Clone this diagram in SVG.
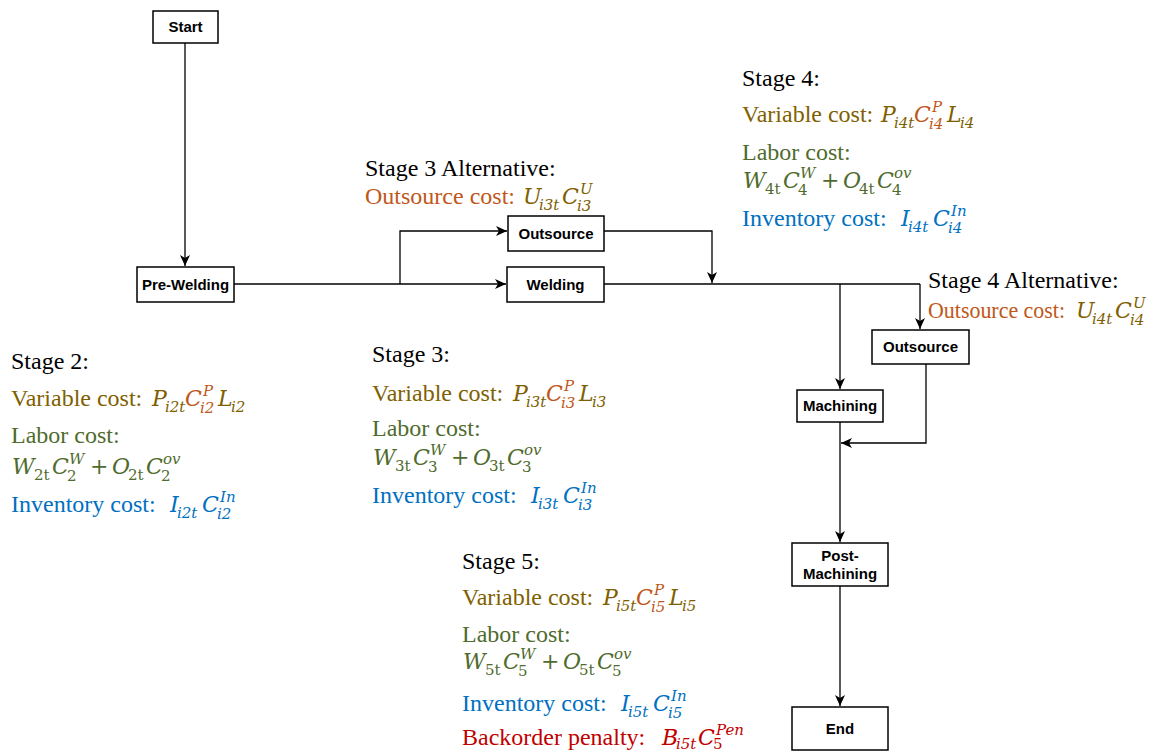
<svg xmlns="http://www.w3.org/2000/svg" width="1159" height="751" viewBox="0 0 1159 751">
<style>
.box{fill:#fff;stroke:#000;stroke-width:1.5}
.lbl{font-family:"Liberation Sans",Arial,sans-serif;font-weight:bold;font-size:15px;text-anchor:middle;fill:#000}
.t{font-family:"Liberation Serif","Times New Roman",serif;font-size:24px}
.m{font-family:"DejaVu Serif",serif;font-style:italic;font-size:22px}
.s{font-size:15px}
.up{font-style:normal}
.k{fill:#000}.ol{fill:#7F6000}.or{fill:#C0571A}.gr{fill:#4F6B2D}.bl{fill:#0070C0}.rd{fill:#C00000}
.c{fill:none;stroke:#000;stroke-width:1.3}
</style>
<defs>
<marker id="ah" markerUnits="userSpaceOnUse" markerWidth="12" markerHeight="10" viewBox="0 0 12 10" refX="11" refY="5" orient="auto">
<path d="M0,0 L11,5 L0,10 L3,5 z" fill="#000"/>
</marker>
</defs>

<g id="connectors">
<path class="c" d="M185,43 V266" marker-end="url(#ah)"/>
<path class="c" d="M234,284 H506" marker-end="url(#ah)"/>
<path class="c" d="M400,284 V231 H507" marker-end="url(#ah)"/>
<path class="c" d="M604,231 H712 V283" marker-end="url(#ah)"/>
<path class="c" d="M604,284 H920"/>
<path class="c" d="M840,284 V389" marker-end="url(#ah)"/>
<path class="c" d="M920,284 V329" marker-end="url(#ah)"/>
<path class="c" d="M926,364 V443 H841" marker-end="url(#ah)"/>
<path class="c" d="M840,422 V542" marker-end="url(#ah)"/>
<path class="c" d="M840,586 V706" marker-end="url(#ah)"/>
</g>

<g id="start"><rect class="box" x="153" y="11" width="65" height="32"/><text class="lbl" x="185.5" y="32">Start</text></g>
<g id="pre-welding"><rect class="box" x="137" y="267" width="97" height="35"/><text class="lbl" x="185.5" y="290">Pre-Welding</text></g>
<g id="welding"><rect class="box" x="507" y="267" width="97" height="35"/><text class="lbl" x="555.5" y="290">Welding</text></g>
<g id="outsource3"><rect class="box" x="508" y="216" width="96" height="35"/><text class="lbl" x="556" y="239">Outsource</text></g>
<g id="outsource4"><rect class="box" x="872" y="330" width="97" height="34"/><text class="lbl" x="920.5" y="352">Outsource</text></g>
<g id="machining"><rect class="box" x="797" y="390" width="86" height="32"/><text class="lbl" x="840" y="411">Machining</text></g>
<g id="post-machining"><rect class="box" x="792" y="543" width="96" height="43"/><text class="lbl" x="840" y="561">Post-</text><text class="lbl" x="840" y="579">Machining</text></g>
<g id="end"><rect class="box" x="792" y="707" width="96" height="43"/><text class="lbl" x="840" y="734">End</text></g>

<g id="stage3-alt">
<text class="t k" x="365" y="176">Stage 3 Alternative:</text>
<text class="t or" x="365" y="204">Outsource cost:</text>
<text class="m ol"><tspan x="523" y="204">U</tspan><tspan class="s" x="539" y="210">i3t</tspan><tspan x="562" y="204">C</tspan><tspan class="s" x="580" y="194">U</tspan><tspan class="s" x="577" y="211">i3</tspan></text>
</g>

<g id="stage4-alt">
<text class="t k" x="928" y="288">Stage 4 Alternative:</text>
<text class="t or" x="928" y="318" textLength="137" lengthAdjust="spacingAndGlyphs">Outsource cost:</text>
<text class="m ol"><tspan x="1076" y="318">U</tspan><tspan class="s" x="1092" y="324">i4t</tspan><tspan x="1115" y="318">C</tspan><tspan class="s" x="1133" y="308">U</tspan><tspan class="s" x="1130" y="325">i4</tspan></text>
</g>

<g id="stage2" transform="translate(11,369)">
<text class="t k" x="0" y="0">Stage 2:</text>
<text class="t ol" x="0" y="37">Variable cost:</text>
<text class="m"><tspan class="ol" x="141" y="37">P</tspan><tspan class="s ol" x="154" y="43">i2t</tspan><tspan class="or" x="174" y="37">C</tspan><tspan class="s or" x="192" y="27">P</tspan><tspan class="s or" x="189" y="44">i2</tspan><tspan class="ol" x="207" y="37">L</tspan><tspan class="s ol" x="220" y="43">i2</tspan></text>
<text class="t gr" x="0" y="74">Labor cost:</text>
<text class="m gr"><tspan x="1" y="105">W</tspan><tspan class="s up" x="23" y="111">2t</tspan><tspan x="41" y="105">C</tspan><tspan class="s" x="58" y="95">W</tspan><tspan class="s up" x="56" y="112">2</tspan><tspan class="up" x="79" y="105">+</tspan><tspan x="101" y="105">O</tspan><tspan class="s up" x="117" y="111">2t</tspan><tspan x="135" y="105">C</tspan><tspan class="s" x="152" y="95">ov</tspan><tspan class="s up" x="150" y="112">2</tspan></text>
<text class="t bl" x="0" y="143">Inventory cost:</text>
<text class="m bl"><tspan x="159" y="143">I</tspan><tspan class="s" x="166" y="149">i2t</tspan><tspan x="191" y="143">C</tspan><tspan class="s" x="209" y="133">In</tspan><tspan class="s" x="206" y="150">i2</tspan></text>
</g>

<g id="stage3" transform="translate(372,362)">
<text class="t k" x="0" y="0">Stage 3:</text>
<text class="t ol" x="0" y="39">Variable cost:</text>
<text class="m"><tspan class="ol" x="141" y="39">P</tspan><tspan class="s ol" x="154" y="45">i3t</tspan><tspan class="or" x="174" y="39">C</tspan><tspan class="s or" x="192" y="29">P</tspan><tspan class="s or" x="189" y="46">i3</tspan><tspan class="ol" x="207" y="39">L</tspan><tspan class="s ol" x="220" y="45">i3</tspan></text>
<text class="t gr" x="0" y="74">Labor cost:</text>
<text class="m gr"><tspan x="1" y="103">W</tspan><tspan class="s up" x="23" y="109">3t</tspan><tspan x="41" y="103">C</tspan><tspan class="s" x="58" y="93">W</tspan><tspan class="s up" x="56" y="110">3</tspan><tspan class="up" x="79" y="103">+</tspan><tspan x="101" y="103">O</tspan><tspan class="s up" x="117" y="109">3t</tspan><tspan x="135" y="103">C</tspan><tspan class="s" x="152" y="93">ov</tspan><tspan class="s up" x="150" y="110">3</tspan></text>
<text class="t bl" x="0" y="141">Inventory cost:</text>
<text class="m bl"><tspan x="159" y="141">I</tspan><tspan class="s" x="166" y="147">i3t</tspan><tspan x="191" y="141">C</tspan><tspan class="s" x="209" y="131">In</tspan><tspan class="s" x="206" y="148">i3</tspan></text>
</g>

<g id="stage4" transform="translate(742,86)">
<text class="t k" x="0" y="0">Stage 4:</text>
<text class="t ol" x="0" y="36">Variable cost:</text>
<text class="m"><tspan class="ol" x="139" y="36">P</tspan><tspan class="s ol" x="152" y="42">i4t</tspan><tspan class="or" x="172" y="36">C</tspan><tspan class="s or" x="190" y="26">P</tspan><tspan class="s or" x="187" y="43">i4</tspan><tspan class="ol" x="205" y="36">L</tspan><tspan class="s ol" x="218" y="42">i4</tspan></text>
<text class="t gr" x="0" y="74">Labor cost:</text>
<text class="m gr"><tspan x="1" y="102">W</tspan><tspan class="s up" x="23" y="108">4t</tspan><tspan x="41" y="102">C</tspan><tspan class="s" x="58" y="92">W</tspan><tspan class="s up" x="56" y="109">4</tspan><tspan class="up" x="79" y="102">+</tspan><tspan x="101" y="102">O</tspan><tspan class="s up" x="117" y="108">4t</tspan><tspan x="135" y="102">C</tspan><tspan class="s" x="152" y="92">ov</tspan><tspan class="s up" x="150" y="109">4</tspan></text>
<text class="t bl" x="0" y="140">Inventory cost:</text>
<text class="m bl"><tspan x="159" y="140">I</tspan><tspan class="s" x="166" y="146">i4t</tspan><tspan x="191" y="140">C</tspan><tspan class="s" x="209" y="130">In</tspan><tspan class="s" x="206" y="147">i4</tspan></text>
</g>

<g id="stage5" transform="translate(462,569)">
<text class="t k" x="0" y="0">Stage 5:</text>
<text class="t ol" x="0" y="36">Variable cost:</text>
<text class="m"><tspan class="ol" x="141" y="36">P</tspan><tspan class="s ol" x="154" y="42">i5t</tspan><tspan class="or" x="174" y="36">C</tspan><tspan class="s or" x="192" y="26">P</tspan><tspan class="s or" x="189" y="43">i5</tspan><tspan class="ol" x="207" y="36">L</tspan><tspan class="s ol" x="220" y="42">i5</tspan></text>
<text class="t gr" x="0" y="73">Labor cost:</text>
<text class="m gr"><tspan x="1" y="100">W</tspan><tspan class="s up" x="23" y="106">5t</tspan><tspan x="41" y="100">C</tspan><tspan class="s" x="58" y="90">W</tspan><tspan class="s up" x="56" y="107">5</tspan><tspan class="up" x="79" y="100">+</tspan><tspan x="101" y="100">O</tspan><tspan class="s up" x="117" y="106">5t</tspan><tspan x="135" y="100">C</tspan><tspan class="s" x="152" y="90">ov</tspan><tspan class="s up" x="150" y="107">5</tspan></text>
<text class="t bl" x="0" y="142">Inventory cost:</text>
<text class="m bl"><tspan x="159" y="142">I</tspan><tspan class="s" x="166" y="148">i5t</tspan><tspan x="191" y="142">C</tspan><tspan class="s" x="209" y="132">In</tspan><tspan class="s" x="206" y="149">i5</tspan></text>
<text class="t rd" x="0" y="176">Backorder penalty:</text>
<text class="m rd"><tspan x="200" y="176">B</tspan><tspan class="s" x="214" y="180">i5t</tspan><tspan x="236" y="176">C</tspan><tspan class="s" x="254" y="166">Pen</tspan><tspan class="s up" x="251" y="180">5</tspan></text>
</g>
</svg>
